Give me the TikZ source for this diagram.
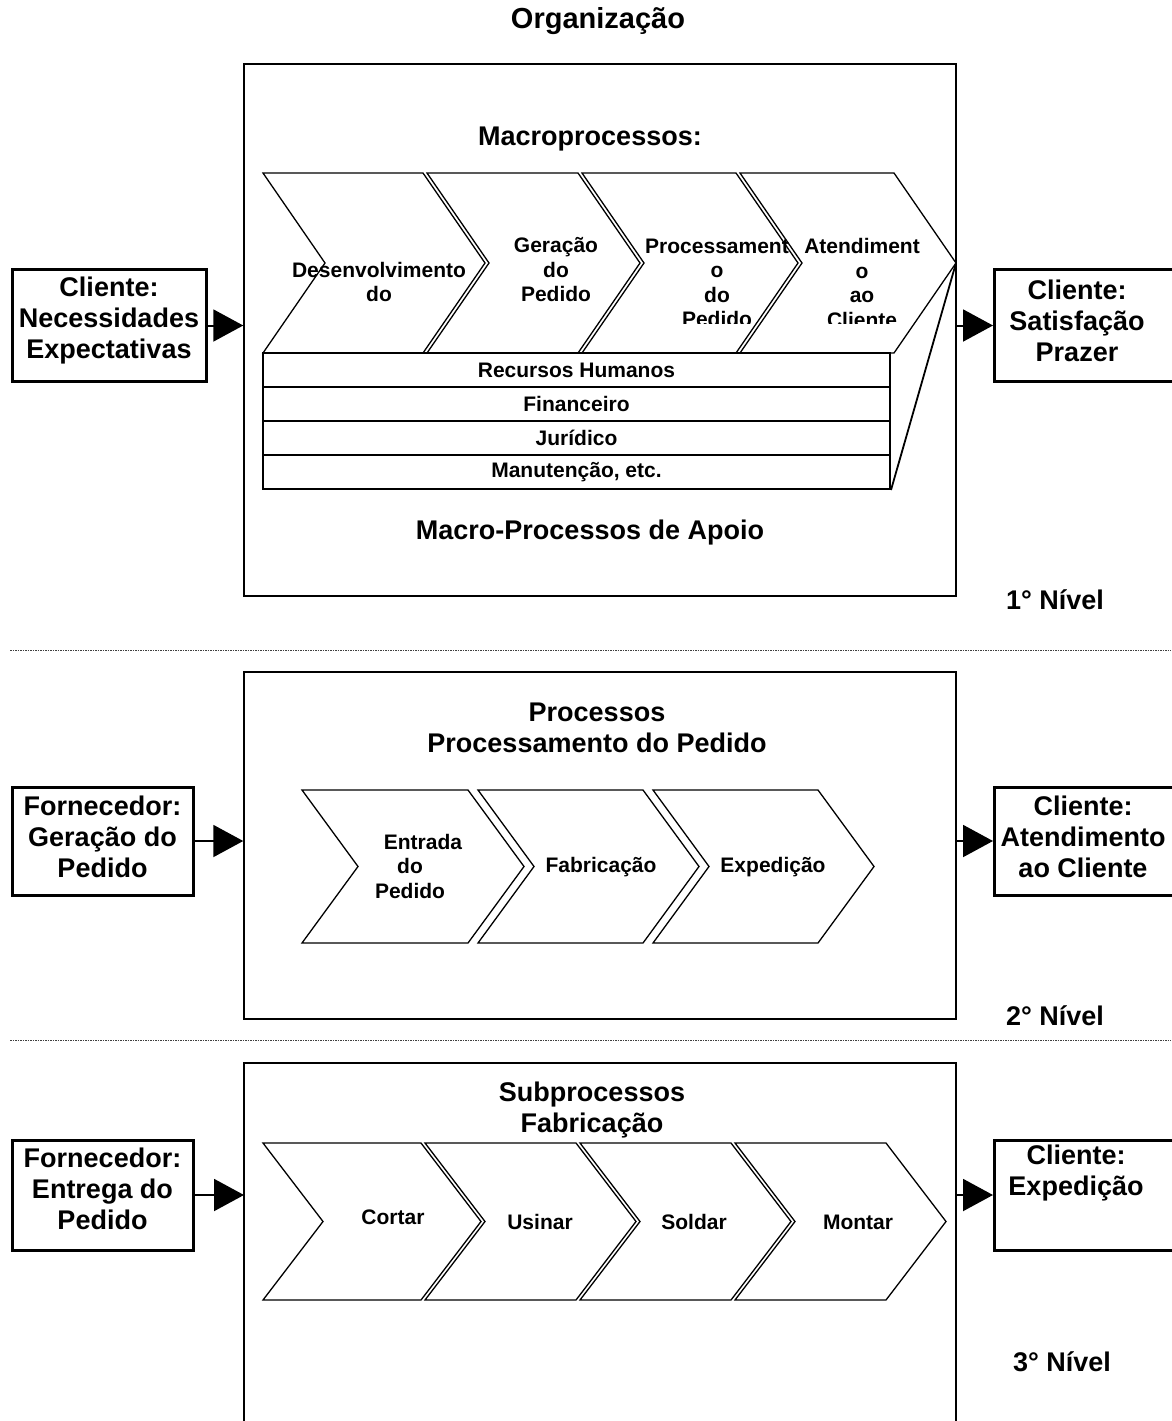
\documentclass[tikz,border=0pt]{standalone}
\usepackage{fontspec}
\setmainfont{Liberation Sans}
\usetikzlibrary{arrows.meta}
\newcommand{\chevr}[5]{%
  \draw[chev] (#1,#3) -- (#2,#3) -- ({#2+#5},{(#3+#4)/2}) -- (#2,#4) -- (#1,#4) -- ({#1+#5},{(#3+#4)/2}) -- cycle;}
\tikzset{
  big/.style={font=\fontsize{27}{31}\selectfont\bfseries, align=center, inner sep=0pt},
  small/.style={font=\fontsize{21}{24.5}\selectfont\bfseries, align=center, inner sep=0pt},
  mainbox/.style={draw, line width=1.5pt, minimum width=712pt, inner sep=0pt},
  sidebox/.style={draw, line width=3pt, inner sep=0pt, minimum height=112pt},
  chev/.style={draw, line width=1.3pt, line join=miter, fill=white},
  strip/.style={draw, line width=2pt, fill=white, minimum width=627pt, minimum height=34pt},
  wedge/.style={line width=1.8pt},
  arr/.style={line width=2pt, -{Triangle[length=30pt,width=32pt]}},
  sep/.style={line width=1pt, dash pattern=on 1.5pt off 1pt, black!75},
}
\begin{document}
\begin{tikzpicture}[x=1pt,y=-1pt]
\useasboundingbox (0,0) rectangle (1171,1421);

% ---------- title ----------
\node[big, font=\fontsize{29}{33}\selectfont\bfseries] (title) at (598,21) {Organização};

% ---------- level 1 ----------
\node[mainbox, minimum height=532pt] (org1) at (600,330) {};
\node[big] (macro) at (590,139) {Macroprocessos:};
\chevr{263}{423}{173}{353}{62}
\chevr{427}{578}{173}{353}{62}
\chevr{582}{736}{173}{353}{62}
\chevr{740}{894}{173}{353}{62}
\coordinate (c4tip) at (956,263);
\node[small] (t11) at (379,282) {Desenvolvimento\\do};
\node[small] (t12) at (556,270) {Geração\\do\\Pedido};
\begin{scope}
  \clip (580,200) rectangle (950,323);
  \node[small] (t13) at (717,283) {Processament\\o\\do\\Pedido};
  \node[small] (t14) at (862,283) {Atendiment\\o\\ao\\Cliente};
\end{scope}
\node[strip, small] (s1) at (576.5,370) {Recursos Humanos};
\node[strip, small] (s2) at (576.5,404) {Financeiro};
\node[strip, small] (s3) at (576.5,438) {Jurídico};
\node[strip, small] (s4) at (576.5,472) {Manutenção, etc.};
\draw[wedge] (c4tip) -- (s4.south east);
\node[big] (apoio) at (590,533) {Macro-Processos de Apoio};
\node[big] (n1) at (1055,600) {1° Nível};

\node[sidebox, minimum width=194pt] (lb1) at (109,325.5) {};
\node[big] (lb1t) at (109,321) {Cliente:\\Necessidades\\Expectativas};
\node[sidebox, minimum width=190pt, anchor=west] (rb1) at (993,325.5) {};
\node[big] (rb1t) at (1077,321) {Cliente:\\Satisfação\\Prazer};
\draw[arr] (lb1.east) -- (lb1.east -| org1.west);
\draw[arr] (rb1.west -| org1.east) -- (rb1.west);

\coordinate (d1a) at (10,650);
\coordinate (d1b) at (1171,650);
\draw[sep] (d1a) -- (d1b);

% ---------- level 2 ----------
\node[mainbox, minimum height=347pt] (org2) at (600,845.5) {};
\node[big] (proc) at (597,728) {Processos\\Processamento do Pedido};
\chevr{302}{468}{790}{943}{56}
\chevr{478}{643}{790}{943}{56}
\chevr{653}{818}{790}{943}{56}
\node[small] (t21) at (410,866) {\hspace{26pt}Entrada\\do\\Pedido};
\node[small] (t22) at (601,867) {Fabricação};
\node[small] (t23) at (773,867) {Expedição};
\node[big] (n2) at (1055,1016) {2° Nível};

\node[sidebox, minimum width=181pt, minimum height=108pt] (lb2) at (102.5,841) {};
\node[big] (lb2t) at (102.5,837) {Fornecedor:\\Geração do\\Pedido};
\node[sidebox, minimum width=190pt, minimum height=108pt, anchor=west] (rb2) at (993,841) {};
\node[big] (rb2t) at (1083,837) {Cliente:\\Atendimento\\ao Cliente};
\draw[arr] (lb2.east) -- (lb2.east -| org2.west);
\draw[arr] (rb2.west -| org2.east) -- (rb2.west);

\coordinate (d2a) at (10,1040);
\coordinate (d2b) at (1171,1040);
\draw[sep] (d2a) -- (d2b);

% ---------- level 3 ----------
\coordinate (o3bl) at (244,1430);
\coordinate (o3tl) at (244,1063);
\coordinate (o3tr) at (956,1063);
\coordinate (o3br) at (956,1430);
\draw[line width=1.5pt] (o3bl) -- (o3tl) -- (o3tr) -- (o3br);
\node[big] (sub) at (592,1110) {Subprocessos\\Fabricação};
\chevr{263}{421}{1143}{1300}{60}
\chevr{425}{576}{1143}{1300}{60}
\chevr{580}{731}{1143}{1300}{60}
\chevr{735}{886}{1143}{1300}{60}
\node[small] (t31) at (393,1217) {Cortar};
\node[small] (t32) at (540,1222) {Usinar};
\node[small] (t33) at (694,1222) {Soldar};
\node[small] (t34) at (858,1222) {Montar};
\node[big] (n3) at (1062,1362) {3° Nível};

\node[sidebox, minimum width=181pt, minimum height=110pt] (lb3) at (102.5,1195) {};
\node[big] (lb3t) at (102.5,1189) {Fornecedor:\\Entrega do\\Pedido};
\node[sidebox, minimum width=190pt, minimum height=110pt, anchor=west] (rb3) at (993,1195) {};
\node[big] (rb3t) at (1076,1173) {Cliente:\\Expedição};
\draw[arr] (lb3.east) -- (lb3.east -| o3tl);
\draw[arr] (rb3.west -| o3tr) -- (rb3.west);
\end{tikzpicture}
\end{document}
